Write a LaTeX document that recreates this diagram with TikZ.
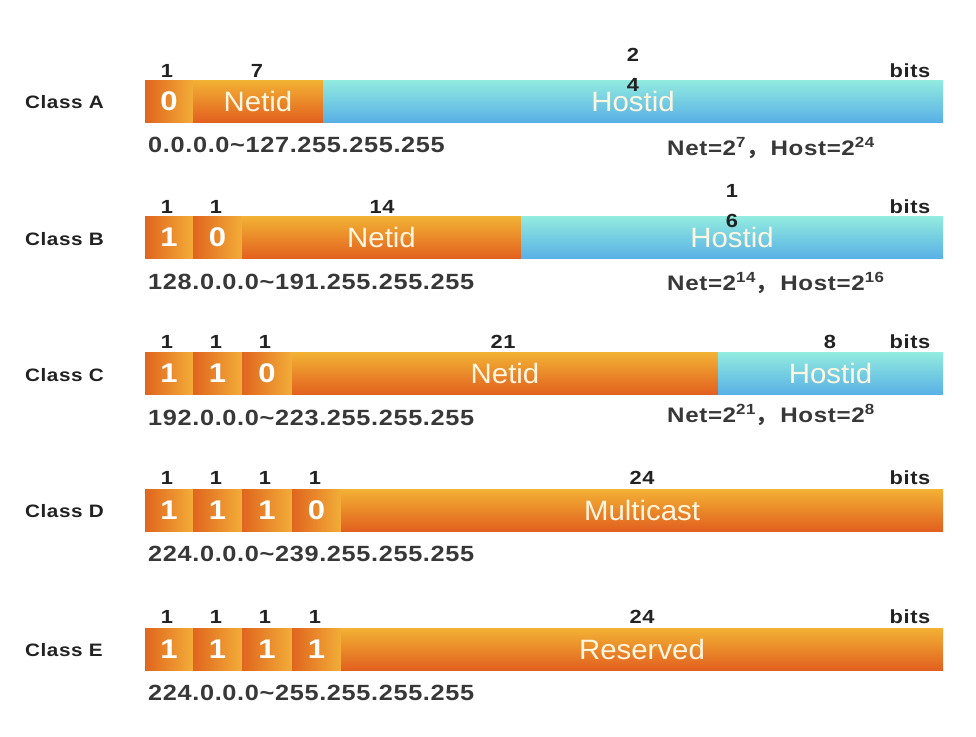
\documentclass[tikz,border=0pt]{standalone}
\usepackage{fontspec}
\setmainfont{Liberation Sans}
\newfontfamily\labfont[FakeStretch=1.15,LetterSpace=3]{Liberation Sans}
\newfontfamily\fieldfont[FakeStretch=1.05]{Liberation Sans}
\newfontfamily\cjkfont{Noto Sans CJK SC}
\definecolor{cellL}{HTML}{E0651E}
\definecolor{cellR}{HTML}{F2AD38}
\definecolor{orT}{HTML}{F2B234}
\definecolor{orB}{HTML}{E2601F}
\definecolor{hoT}{HTML}{92EBDF}
\definecolor{hoB}{HTML}{58B0E6}
\definecolor{ink}{HTML}{222222}
\definecolor{fieldtxt}{HTML}{FFF6E0}
\begin{document}
\begin{tikzpicture}[x=1pt,y=-1pt,
  bitcell/.style={minimum width=#1, minimum height=42pt, inner sep=0pt, left color=cellL, right color=cellR, text=white, font=\labfont\bfseries\fontsize{27}{27}\selectfont},
  netf/.style={minimum width=#1, minimum height=42pt, inner sep=0pt, top color=orT, bottom color=orB, text=fieldtxt, font=\fieldfont\fontsize{28}{28}\selectfont},
  hostf/.style={minimum width=#1, minimum height=42pt, inner sep=0pt, top color=hoT, bottom color=hoB, text=fieldtxt, font=\fieldfont\fontsize{28}{28}\selectfont},
  cls/.style={anchor=base west, inner sep=0pt, text=ink, font=\labfont\bfseries\fontsize{18}{18}\selectfont},
  bitn/.style={anchor=base, inner sep=0pt, text=ink, font=\labfont\bfseries\fontsize{19}{19}\selectfont},
  bitw/.style={anchor=north, inner sep=0pt, align=center, text=ink, font=\labfont\bfseries\fontsize{19}{30}\selectfont},
  addr/.style={anchor=base west, inner sep=0pt, text=ink!90, font=\labfont\bfseries\fontsize{22}{22}\selectfont},
  calc/.style={anchor=base west, inner sep=0pt, text=ink!90, font=\labfont\bfseries\fontsize{21}{21}\selectfont}
]
\useasboundingbox (0,0) rectangle (976,736);
\fill[white] (0,0) rectangle (976,736);

% ---------- Class A ----------
\node[cls] (clA) at (25,108.5) {Class A};
\node[bitcell=48pt] (A1) at (169,101) {0};
\node[netf=130pt] (Anet) at (258,101) {Netid};
\node[hostf=620pt] (Ahost) at (633,101) {Hostid};
\node[bitn] (nA1) at (167,77) {1};
\node[bitn] (nA2) at (257,77) {7};
\node[bitw] (nA3) at (633,48) {2\\4};
\node[bitn] (bA) at (910,77) {bits};
\node[addr] (adA) at (148,152) {0.0.0.0\char`\~127.255.255.255};
\node[calc] (cA) at (667,155) {Net=2\textsuperscript{7}{\cjkfont ，}\,Host=2\textsuperscript{24}};

% ---------- Class B ----------
\node[cls] (clB) at (25,245) {Class B};
\node[bitcell=48pt] (B1) at (169,237.5) {1};
\node[bitcell=49pt] (B2) at (217.5,237.5) {0};
\node[netf=279pt] (Bnet) at (381.5,237.5) {Netid};
\node[hostf=422pt] (Bhost) at (732,237.5) {Hostid};
\node[bitn] (nB1) at (167,213) {1};
\node[bitn] (nB2) at (216,213) {1};
\node[bitn] (nB3) at (382,213) {14};
\node[bitw] (nB4) at (732,184) {1\\6};
\node[bitn] (bB) at (910,213) {bits};
\node[addr] (adB) at (148,289) {128.0.0.0\char`\~191.255.255.255};
\node[calc] (cB) at (667,290) {Net=2\textsuperscript{14}{\cjkfont ，}\,Host=2\textsuperscript{16}};

% ---------- Class C ----------
\node[cls] (clC) at (25,381) {Class C};
\node[bitcell=48pt] (C1) at (169,373.5) {1};
\node[bitcell=49pt] (C2) at (217.5,373.5) {1};
\node[bitcell=50pt] (C3) at (267,373.5) {0};
\node[netf=426pt] (Cnet) at (505,373.5) {Netid};
\node[hostf=225pt] (Chost) at (830.5,373.5) {Hostid};
\node[bitn] (nC1) at (167,348) {1};
\node[bitn] (nC2) at (216,348) {1};
\node[bitn] (nC3) at (265,348) {1};
\node[bitn] (nC4) at (503,348) {21};
\node[bitn] (nC5) at (830,348) {8};
\node[bitn] (bC) at (910,348) {bits};
\node[addr] (adC) at (148,425) {192.0.0.0\char`\~223.255.255.255};
\node[calc] (cC) at (667,422) {Net=2\textsuperscript{21}{\cjkfont ，}\,Host=2\textsuperscript{8}};

% ---------- Class D ----------
\node[cls] (clD) at (25,517.5) {Class D};
\node[bitcell=48pt] (D1) at (169,510) {1};
\node[bitcell=49pt] (D2) at (217.5,510) {1};
\node[bitcell=50pt] (D3) at (267,510) {1};
\node[bitcell=49pt] (D4) at (316.5,510) {0};
\node[netf=602pt] (Dmc) at (642,510) {Multicast};
\node[bitn] (nD1) at (167,484) {1};
\node[bitn] (nD2) at (216,484) {1};
\node[bitn] (nD3) at (265,484) {1};
\node[bitn] (nD4) at (315,484) {1};
\node[bitn] (nD5) at (642,484) {24};
\node[bitn] (bD) at (910,484) {bits};
\node[addr] (adD) at (148,561) {224.0.0.0\char`\~239.255.255.255};

% ---------- Class E ----------
\node[cls] (clE) at (25,656.5) {Class E};
\node[bitcell=48pt] (E1) at (169,649) {1};
\node[bitcell=49pt] (E2) at (217.5,649) {1};
\node[bitcell=50pt] (E3) at (267,649) {1};
\node[bitcell=49pt] (E4) at (316.5,649) {1};
\node[netf=602pt] (Ers) at (642,649) {Reserved};
\node[bitn] (nE1) at (167,623) {1};
\node[bitn] (nE2) at (216,623) {1};
\node[bitn] (nE3) at (265,623) {1};
\node[bitn] (nE4) at (315,623) {1};
\node[bitn] (nE5) at (642,623) {24};
\node[bitn] (bE) at (910,623) {bits};
\node[addr] (adE) at (148,700) {224.0.0.0\char`\~255.255.255.255};
\end{tikzpicture}
\end{document}
